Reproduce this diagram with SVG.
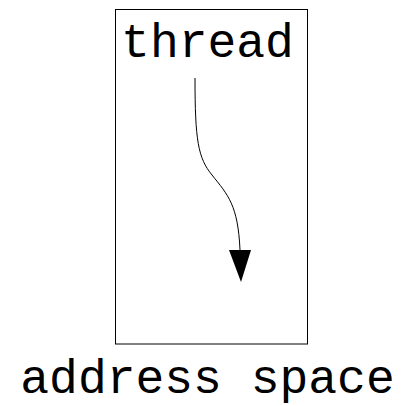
<svg xmlns="http://www.w3.org/2000/svg" width="404" height="406" viewBox="0 0 404 406">
<style>
.lbl{font-family:"Nimbus Mono PS","Courier","FreeMono","Liberation Mono","Courier New",monospace;font-size:48px;fill:#000}
</style>
<rect width="404" height="406" fill="#fff"/>
<g id="address-space">
<rect x="115.5" y="9.5" width="192" height="334.5" fill="none" stroke="#000" stroke-width="1"/>
<text class="lbl" x="207.5" y="393" text-anchor="middle">address space</text>
</g>
<g id="thread">
<text class="lbl" x="207.5" y="57" text-anchor="middle">thread</text>
</g>
<g id="connectors">
<path d="M195,78 C195,140 198,158 212,175 C228,195 238,205 240,250" fill="none" stroke="#000" stroke-width="1"/>
<polygon points="229,250 251,250 241,282" fill="#000"/>
</g>
</svg>
